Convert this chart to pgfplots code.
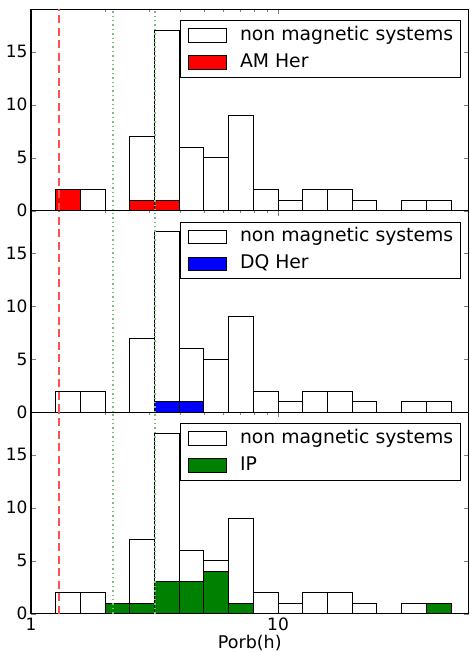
\documentclass[border=0pt]{standalone}
\usepackage{fontspec}
\setmainfont{DejaVu Sans}
\usepackage{pgfplots}
\pgfplotsset{compat=1.18}
\definecolor{amred}{RGB}{255,0,0}
\definecolor{dqblue}{RGB}{0,0,255}
\definecolor{ipgreen}{RGB}{0,128,0}
\definecolor{vred}{RGB}{255,80,80}
\definecolor{vgreen}{RGB}{120,190,120}
\pgfplotstableread{
x n am dq ip
1.2589 2 2 0 0
1.5849 2 0 0 0
1.9953 0 0 0 1
2.5119 7 1 0 1
3.1623 17 1 1 3
3.9811 6 0 1 3
5.0119 5 0 0 4
6.3096 9 0 0 1
7.9433 2 0 0 0
10.000 1 0 0 0
12.589 2 0 0 0
15.849 2 0 0 0
19.953 1 0 0 0
25.119 0 0 0 0
31.623 1 0 0 0
39.811 1 0 0 1
50.119 0 0 0 0
}\hist
\begin{document}
\begin{tikzpicture}
\useasboundingbox (0,0) rectangle (469pt,652pt);
% top panel
\begin{axis}[
    at={(31pt,441.3pt)}, anchor=south west,
    scale only axis, width=437.5pt, height=201.5pt,
    xmode=log, xmin=1, xmax=59, ymin=0, ymax=19,
    ytick={0,5,10,15}, xtick={1,10}, xticklabels={},
    tick align=inside,
    major tick length=5pt, minor tick length=2.5pt,
    axis line style={line width=1.1pt},
    /pgf/number format/assume math mode=true,
    tick label style={font=\fontsize{17}{20}\selectfont},
    yticklabel style={inner sep=0pt, xshift=-3.3pt},
    legend cell align=left,
    legend style={at={(rel axis cs:1,1)}, anchor=north east, xshift=-7.8pt, yshift=-11.2pt,
      font=\fontsize{18.8}{21}\selectfont, draw=black, line width=0.9pt,
      inner xsep=7pt, inner ysep=6pt, row sep=9.5pt, column sep=13.5pt,
      nodes={inner sep=0pt, text height=13.5pt, text depth=4pt}},
  ]
\addplot[ybar interval, fill=white, draw=black, line width=0.9pt,
  legend image code/.code={\draw[fill=white, draw=black, line width=0.9pt] (0pt,-6.7pt) rectangle (38pt,6.7pt);}]
  table[x=x, y=n] {\hist};
\addlegendentry{non magnetic systems}
\addplot[ybar interval, fill=amred, draw=black, line width=0.9pt,
  legend image code/.code={\draw[fill=amred, draw=black, line width=0.9pt] (0pt,-6.7pt) rectangle (38pt,6.7pt);}]
  table[x=x, y=am] {\hist};
\addlegendentry{AM Her}
\addplot[vred, line width=1.5pt, dash pattern=on 8pt off 4.5pt, forget plot] coordinates {(1.3,0) (1.3,19)};
\addplot[vgreen, line width=1.4pt, dash pattern=on 1.4pt off 3pt, forget plot] coordinates {(2.15,0) (2.15,19)};
\addplot[vgreen, line width=1.4pt, dash pattern=on 1.4pt off 3pt, forget plot] coordinates {(3.18,0) (3.18,19)};
\end{axis}
% middle panel
\begin{axis}[
    at={(31pt,239.8pt)}, anchor=south west,
    scale only axis, width=437.5pt, height=201.5pt,
    xmode=log, xmin=1, xmax=59, ymin=0, ymax=19,
    ytick={0,5,10,15}, xtick={1,10}, xticklabels={},
    tick align=inside,
    major tick length=5pt, minor tick length=2.5pt,
    axis line style={line width=1.1pt},
    /pgf/number format/assume math mode=true,
    tick label style={font=\fontsize{17}{20}\selectfont},
    yticklabel style={inner sep=0pt, xshift=-3.3pt},
    legend cell align=left,
    legend style={at={(rel axis cs:1,1)}, anchor=north east, xshift=-7.8pt, yshift=-11.2pt,
      font=\fontsize{18.8}{21}\selectfont, draw=black, line width=0.9pt,
      inner xsep=7pt, inner ysep=6pt, row sep=9.5pt, column sep=13.5pt,
      nodes={inner sep=0pt, text height=13.5pt, text depth=4pt}},
  ]
\addplot[ybar interval, fill=white, draw=black, line width=0.9pt,
  legend image code/.code={\draw[fill=white, draw=black, line width=0.9pt] (0pt,-6.7pt) rectangle (38pt,6.7pt);}]
  table[x=x, y=n] {\hist};
\addlegendentry{non magnetic systems}
\addplot[ybar interval, fill=dqblue, draw=black, line width=0.9pt,
  legend image code/.code={\draw[fill=dqblue, draw=black, line width=0.9pt] (0pt,-6.7pt) rectangle (38pt,6.7pt);}]
  table[x=x, y=dq] {\hist};
\addlegendentry{DQ Her}
\addplot[vred, line width=1.5pt, dash pattern=on 8pt off 4.5pt, forget plot] coordinates {(1.3,0) (1.3,19)};
\addplot[vgreen, line width=1.4pt, dash pattern=on 1.4pt off 3pt, forget plot] coordinates {(2.15,0) (2.15,19)};
\addplot[vgreen, line width=1.4pt, dash pattern=on 1.4pt off 3pt, forget plot] coordinates {(3.18,0) (3.18,19)};
\end{axis}
% bottom panel
\begin{axis}[
    at={(31pt,38.3pt)}, anchor=south west,
    scale only axis, width=437.5pt, height=201.5pt,
    xmode=log, xmin=1, xmax=59, ymin=0, ymax=19,
    ytick={0,5,10,15}, xtick={1,10}, xticklabels={1,10},
    tick align=inside,
    major tick length=5pt, minor tick length=2.5pt,
    axis line style={line width=1.1pt},
    /pgf/number format/assume math mode=true,
    tick label style={font=\fontsize{17}{20}\selectfont},
    yticklabel style={inner sep=0pt, xshift=-3.3pt},
    xticklabel style={inner sep=0pt, yshift=-4pt},
    xlabel={Porb(h)},
    every axis x label/.style={at={(ticklabel cs:0.5)}, anchor=north, inner sep=0pt, yshift=-4pt,
      font=\fontsize{17.5}{20}\selectfont},
    legend cell align=left,
    legend style={at={(rel axis cs:1,1)}, anchor=north east, xshift=-7.8pt, yshift=-11.2pt,
      font=\fontsize{18.8}{21}\selectfont, draw=black, line width=0.9pt,
      inner xsep=7pt, inner ysep=6pt, row sep=9.5pt, column sep=13.5pt,
      nodes={inner sep=0pt, text height=13.5pt, text depth=4pt}},
  ]
\addplot[ybar interval, fill=white, draw=black, line width=0.9pt,
  legend image code/.code={\draw[fill=white, draw=black, line width=0.9pt] (0pt,-6.7pt) rectangle (38pt,6.7pt);}]
  table[x=x, y=n] {\hist};
\addlegendentry{non magnetic systems}
\addplot[ybar interval, fill=ipgreen, draw=black, line width=0.9pt,
  legend image code/.code={\draw[fill=ipgreen, draw=black, line width=0.9pt] (0pt,-6.7pt) rectangle (38pt,6.7pt);}]
  table[x=x, y=ip] {\hist};
\addlegendentry{IP}
\addplot[vred, line width=1.5pt, dash pattern=on 8pt off 4.5pt, forget plot] coordinates {(1.3,0) (1.3,19)};
\addplot[vgreen, line width=1.4pt, dash pattern=on 1.4pt off 3pt, forget plot] coordinates {(2.15,0) (2.15,19)};
\addplot[vgreen, line width=1.4pt, dash pattern=on 1.4pt off 3pt, forget plot] coordinates {(3.18,0) (3.18,19)};
\end{axis}
\end{tikzpicture}
\end{document}
